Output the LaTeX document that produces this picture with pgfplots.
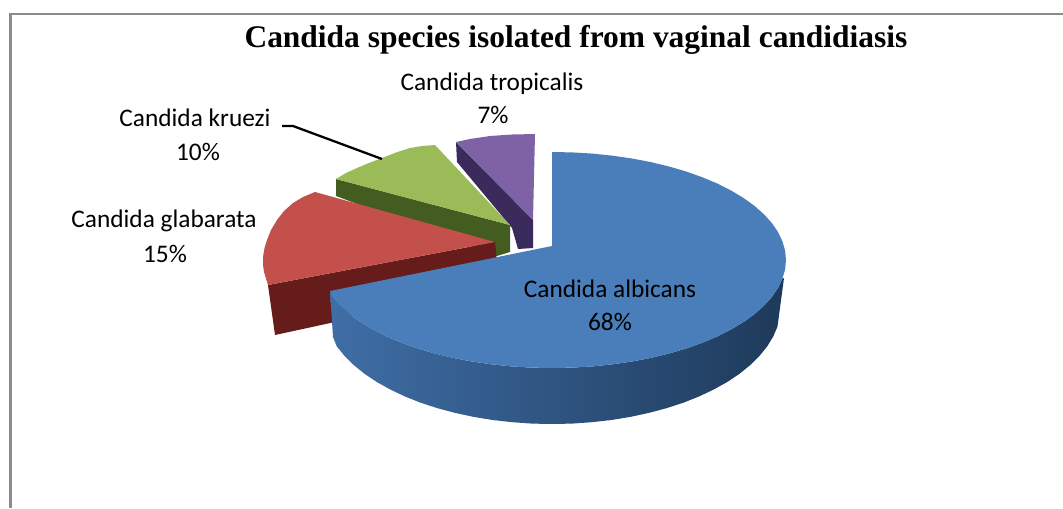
\documentclass[border=0pt]{standalone}
\usepackage{fontspec}
\setmainfont{Carlito}
\newfontfamily\titlefont{Liberation Serif}
\usepackage{pgfplots}
\pgfplotsset{compat=1.18}
\definecolor{framegray}{HTML}{8C8C8C}
\definecolor{bluetop}{HTML}{4A7EBB}
\definecolor{blueside1}{HTML}{3F6EA6}
\definecolor{blueside2}{HTML}{2E5A8C}
\definecolor{blueside3}{HTML}{1E3A5A}
\definecolor{redtop}{HTML}{C4504C}
\definecolor{redside}{HTML}{651C1A}
\definecolor{greentop}{HTML}{9BBB59}
\definecolor{greenside}{HTML}{435C20}
\definecolor{purpletop}{HTML}{7F62A5}
\definecolor{purpleside}{HTML}{3B2A5C}
\begin{document}
\begin{tikzpicture}
% keep the whole page, hide axis alone shrinks the box to the contents
\fill[white] (0,0) rectangle (797.25pt,381pt);
\begin{axis}[
  scale only axis,
  width=797.25pt, height=381pt,
  xmin=0, xmax=1063, ymin=0, ymax=508,
  y dir=reverse,
  hide axis,
  clip=true,
]
% frame
\addplot[framegray, line width=2.2pt] coordinates {(10.5,508) (10.5,14) (1063,14)};

% purple slice (7%)
\addplot[fill=purpleside, draw=none] coordinates {
  (456,142) (533,220) (533,248) (518,249) (512,228) (457,162)};
\addplot[fill=purpletop, draw=none] coordinates {
  (456,142) (470,139) (490,136) (512,134.5) (535,134) (533,220)};

% green slice (10%)
\addplot[fill=greenside, draw=none] coordinates {
  (336,179) (510,225) (510,252) (497,256) (336,196)};
\addplot[fill=greentop, draw=none] coordinates {
  (435,145) (422,146) (410,148) (396,152.5) (382,158) (369,163) (357,168) (346,173) (336,179) (510,225)};

% red slice (15%)
\addplot[fill=redside, draw=none] coordinates {
  (268,285) (495,242) (497,262) (335,322) (275,335)};
\addplot[fill=redtop, draw=none] coordinates {
  (315,192) (303,197) (293,203) (284,211) (277,220) (271,230) (267,240) (264.5,248)
  (263,257) (263,265) (264,272) (268,285) (495,242)};

% blue slice (68%), side first
\addplot[left color=blueside1, middle color=blueside2, right color=blueside3, draw=none] coordinates {
  (784,278) (782.4,278.7) (778,288) (771.9,296.9) (764.1,305.6) (754.6,314) (743.7,321.9)
  (731.2,329.4) (717.5,336.4) (702.4,342.7) (686.2,348.5) (669,353.5) (650.9,357.9)
  (632,361.5) (612.6,364.3) (592.6,366.4) (572.4,367.6) (552,368) (531.6,367.6)
  (511.4,366.4) (491.4,364.3) (472,361.5) (453.1,357.9) (435,353.5) (417.8,348.5)
  (401.6,342.7) (386.5,336.4) (372.8,329.4) (360.3,321.9) (349.4,314) (339.9,305.6)
  (332.1,296.9) (330,291)
  (333,337) (336.8,346.4) (344.5,355.9) (353.7,365) (364.4,373.7) (376.6,381.9)
  (390.1,389.4) (404.8,396.4) (420.6,402.7) (437.5,408.2) (455.2,412.9) (473.7,416.9)
  (492.7,420) (512.2,422.2) (532,423.6) (552,424) (572,423.6) (591.8,422.2) (611.3,420)
  (630.3,416.9) (648.8,412.9) (666.5,408.2) (683.4,402.7) (699.2,396.4) (713.9,389.4)
  (727.4,381.9) (739.6,373.7) (750.3,365) (759.5,355.9) (767.2,346.4) (773.2,336.5)
  (777.5,326.5)};
\addplot[fill=bluetop, draw=none] coordinates {
  (552,152) (572.4,152.4) (592.6,153.6) (612.6,155.7) (632,158.5) (650.9,162.1)
  (669,166.5) (686.2,171.5) (702.4,177.3) (717.5,183.6) (731.2,190.6) (743.7,198.1)
  (754.6,206) (764.1,214.4) (771.9,223.1) (778,232) (782.4,241.3) (785.1,250.6)
  (786,260) (785.1,269.4) (782.4,278.7) (778,288) (771.9,296.9) (764.1,305.6)
  (754.6,314) (743.7,321.9) (731.2,329.4) (717.5,336.4) (702.4,342.7) (686.2,348.5)
  (669,353.5) (650.9,357.9) (632,361.5) (612.6,364.3) (592.6,366.4) (572.4,367.6)
  (552,368) (531.6,367.6) (511.4,366.4) (491.4,364.3) (472,361.5) (453.1,357.9)
  (435,353.5) (417.8,348.5) (401.6,342.7) (386.5,336.4) (372.8,329.4) (360.3,321.9)
  (349.4,314) (339.9,305.6) (332.1,296.9) (330,291) (552,246)};

% leader line
\addplot[black, line width=1.7pt] coordinates {(282,126) (293,126) (382,159)};

% texts
\node[font=\titlefont\bfseries\fontsize{23.6}{26}\selectfont] at (576,40) {Candida species isolated from vaginal candidiasis};
\node[font=\fontsize{19}{22}\selectfont] at (492,84) {Candida tropicalis};
\node[font=\fontsize{19}{22}\selectfont] at (493,115) {7\%};
\node[font=\fontsize{19}{22}\selectfont] at (195,118) {Candida kruezi};
\node[font=\fontsize{19}{22}\selectfont] at (198,152) {10\%};
\node[font=\fontsize{19}{22}\selectfont] at (164,221) {Candida glabarata};
\node[font=\fontsize{19}{22}\selectfont] at (165,254) {15\%};
\node[font=\fontsize{19}{22}\selectfont] at (610,289) {Candida albicans};
\node[font=\fontsize{19}{22}\selectfont] at (610,322) {68\%};
\end{axis}
\end{tikzpicture}
\end{document}
